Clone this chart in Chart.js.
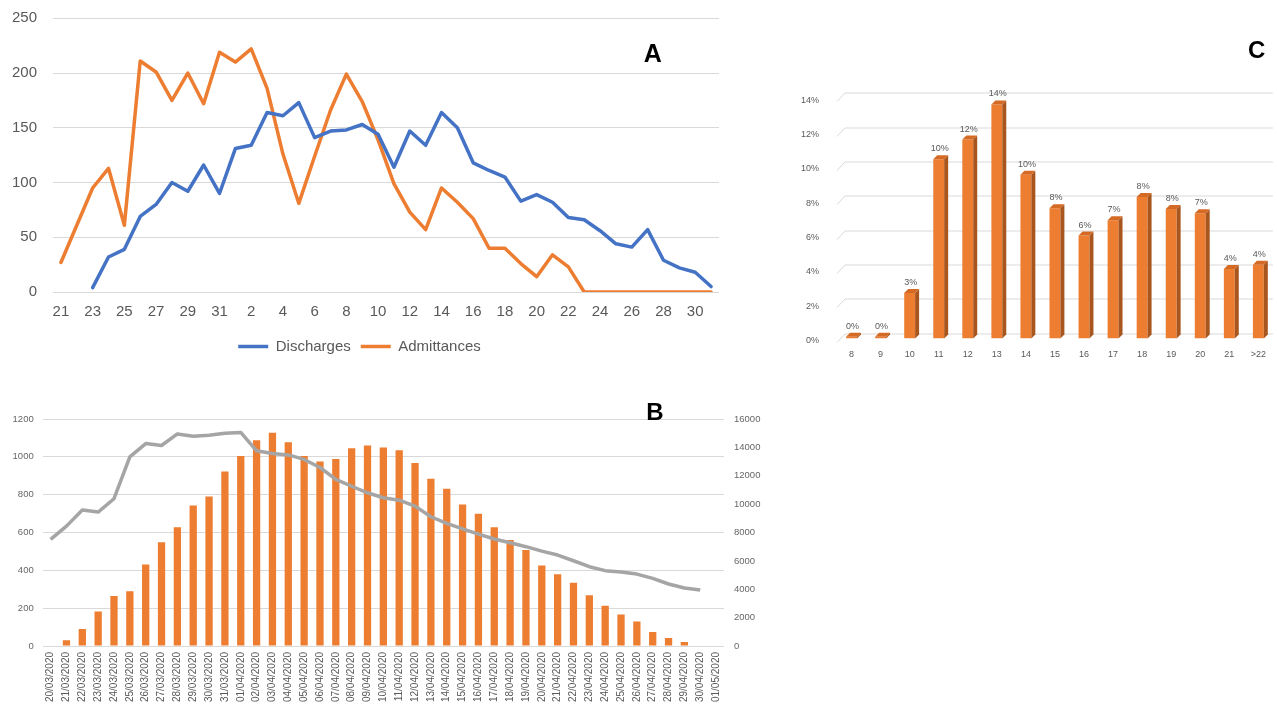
<!DOCTYPE html>
<html><head><meta charset="utf-8">
<script src="https://cdn.jsdelivr.net/npm/chart.js@4/dist/chart.umd.min.js"></script>
<style>
html,body{margin:0;padding:0;background:#fff;width:1277px;height:704px;overflow:hidden;position:relative;}
.box{position:absolute;}
.box canvas{display:block;}
.tag{position:absolute;font-family:"Liberation Sans",Arial,sans-serif;font-weight:bold;color:#000;line-height:1;transform:translate(-50%,-50%);z-index:5;}
</style></head><body>
<div class="box" style="left:0;top:0;"><canvas id="cA" width="730" height="370" style="width:730px;height:370px"></canvas></div>
<div class="box" style="left:0;top:400px;"><canvas id="cB" width="790" height="304" style="width:790px;height:304px"></canvas></div>
<div class="box" style="left:780px;top:60px;"><canvas id="cC" width="497" height="310" style="width:497px;height:310px"></canvas></div>
<div class="tag" style="left:652.7px;top:53.3px;font-size:25px">A</div>
<div class="tag" style="left:655px;top:411.7px;font-size:24px">B</div>
<div class="tag" style="left:1256.7px;top:50px;font-size:24px">C</div>
<script>
// ---------- Chart A data ----------
const dayLabels = ['21','22','23','24','25','26','27','28','29','30','31','1','2','3','4','5','6','7','8','9','10','11','12','13','14','15','16','17','18','19','20','21','22','23','24','25','26','27','28','29','30','1'];
const discharges = [null,null,4,32,39,69,80,100,92,116,90,131,134,164,161,173,141,147,148,153,144,114,147,134,164,150,118,111,105,83,89,82,68,66,56,44,41,57,29,22,18,5];
const admittances = [27,61,95,113,61,211,201,175,200,172,219,210,222,186,126,81,124,166,199,174,139,99,73,57,95,82,67,40,40,26,14,34,23,0,0,0,0,0,0,0,0,0];
const yTicksA = [0,250,50];

// ---------- Chart B data ----------
const datesB = ['20/03/2020','21/03/2020','22/03/2020','23/03/2020','24/03/2020','25/03/2020','26/03/2020','27/03/2020','28/03/2020','29/03/2020','30/03/2020','31/03/2020',
'01/04/2020','02/04/2020','03/04/2020','04/04/2020','05/04/2020','06/04/2020','07/04/2020','08/04/2020','09/04/2020','10/04/2020',
'11/04/2020','12/04/2020','13/04/2020','14/04/2020','15/04/2020','16/04/2020','17/04/2020','18/04/2020','19/04/2020','20/04/2020',
'21/04/2020','22/04/2020','23/04/2020','24/04/2020','25/04/2020','26/04/2020','27/04/2020','28/04/2020','29/04/2020','30/04/2020','01/05/2020'];
const barsB = [null,30,90,183,264,289,431,549,628,743,790,922,
1004,1088,1127,1077,1004,975,989,1046,1060,1049,
1035,968,884,831,748,699,628,560,507,426,
379,335,268,213,167,129,74,42,21,null,null];
const lineB = [7510,8450,9580,9440,10380,13330,14270,14130,14950,14790,14860,15000,
15050,13760,13570,13470,13150,12580,11740,11260,10800,10450,
10280,9860,9110,8640,8260,7890,7540,7280,7000,6690,
6410,6010,5590,5310,5210,5070,4770,4370,4090,3940,null];
const leftTicksB = [0,1200,200];
const rightTicksB = [0,16000,2000];

// ---------- Chart C data ----------
const catsC = ['8','9','10','11','12','13','14','15','16','17','18','19','20','21','>22'];
const pctC = [0.1,0.1,2.65,10.45,11.6,13.65,9.55,7.6,6.0,6.9,8.25,7.55,7.3,4.05,4.3];
const yTicksC = [0,14,2];

const FONT = '"Liberation Sans", Arial, sans-serif';
Chart.defaults.font.family = FONT;
Chart.defaults.animation = false;

// ---------- Chart A ----------
new Chart(document.getElementById('cA'), {
  type: 'line',
  data: { labels: dayLabels, datasets: [
    { label: 'Discharges', data: discharges, borderColor: '#4472C4', backgroundColor: '#4472C4', borderWidth: 3.5, pointRadius: 0, tension: 0, borderJoinStyle: 'round', borderCapStyle: 'round' },
    { label: 'Admittances', data: admittances, borderColor: '#ED7D31', backgroundColor: '#ED7D31', borderWidth: 3.5, pointRadius: 0, tension: 0, borderJoinStyle: 'round', borderCapStyle: 'round' }
  ]},
  options: {
    responsive: false, devicePixelRatio: 1,
    layout: { padding: { top: 18.3, right: 11, bottom: 6, left: 0 } },
    plugins: {
      legend: { position: 'bottom', labels: { usePointStyle: true, pointStyle: 'line', pointStyleWidth: 30, color: '#595959', font: { size: 15 }, padding: 10 } },
      tooltip: { enabled: false }
    },
    scales: {
      x: { offset: true, grid: { display: false, drawTicks: false }, border: { display: false },
           ticks: { autoSkip: false, maxRotation: 0, minRotation: 0, padding: 11, color: '#595959', font: { size: 15 },
                    callback: (v, i) => (i % 2 === 0 ? dayLabels[i] : '') },
           afterFit: s => { s.height = 37; } },
      y: { min: yTicksA[0], max: yTicksA[1], ticks: { stepSize: yTicksA[2], padding: 16, color: '#595959', font: { size: 15 } },
           grid: { color: '#D9D9D9', drawTicks: false, lineWidth: 1 }, border: { display: false },
           afterFit: s => { s.width = 53; s.paddingTop = 9; s.paddingBottom = 9; } }
    }
  }
});

// ---------- Chart B ----------
new Chart(document.getElementById('cB'), {
  type: 'bar',
  data: { labels: datesB, datasets: [
    { type: 'line', label: 'Total', data: lineB, yAxisID: 'y1', borderColor: '#A5A5A5', backgroundColor: '#A5A5A5', borderWidth: 3.5, pointRadius: 0, tension: 0, order: 0, borderJoinStyle: 'round' },
    { type: 'bar', label: 'Daily', data: barsB, yAxisID: 'y', backgroundColor: '#ED7D31', categoryPercentage: 1, barPercentage: 0.46, order: 1 }
  ]},
  options: {
    responsive: false, devicePixelRatio: 1,
    layout: { padding: { top: 19, right: 0, bottom: 0, left: 0 } },
    plugins: { legend: { display: false }, tooltip: { enabled: false } },
    scales: {
      x: { grid: { display: false, drawTicks: false }, border: { display: false },
           ticks: { autoSkip: false, maxRotation: 90, minRotation: 90, padding: 6, color: '#595959', font: { size: 10 } },
           afterFit: s => { s.height = 58; } },
      y: { position: 'left', min: leftTicksB[0], max: leftTicksB[1],
           ticks: { stepSize: leftTicksB[2], padding: 9, color: '#666666', font: { size: 9.5 }, callback: v => String(v) },
           grid: { color: '#D9D9D9', drawTicks: false }, border: { display: false },
           afterFit: s => { s.width = 42.7; s.paddingTop = 6; s.paddingBottom = 6; } },
      y1: { position: 'right', min: rightTicksB[0], max: rightTicksB[1],
           ticks: { stepSize: rightTicksB[2], padding: 10, color: '#666666', font: { size: 9.5 }, callback: v => String(v) },
           grid: { drawOnChartArea: false, drawTicks: false }, border: { display: false },
           afterFit: s => { s.width = 66; s.paddingTop = 6; s.paddingBottom = 6; } }
    }
  }
});

// ---------- Chart C ----------
const grid3d = { id: 'grid3d', beforeDatasetsDraw(chart) {
  const { ctx, chartArea: a, scales: { y } } = chart;
  ctx.save(); ctx.strokeStyle = '#D9D9D9'; ctx.lineWidth = 1;
  y.ticks.forEach(t => {
    const py = Math.round(y.getPixelForValue(t.value)) + 0.5;
    ctx.beginPath(); ctx.moveTo(a.left, py + 3); ctx.lineTo(a.left + 8, py - 5.5); ctx.lineTo(a.right, py - 5.5); ctx.stroke();
  });
  ctx.restore();
}};
const bars3d = { id: 'bars3d', afterDatasetsDraw(chart) {
  const ctx = chart.ctx; const meta = chart.getDatasetMeta(0); const dx = 4, dy = -4;
  meta.data.forEach((bar, i) => {
    const { x, y, base, width } = bar.getProps(['x', 'y', 'base', 'width'], true);
    const l = x - width / 2, r = x + width / 2;
    ctx.save();
    ctx.fillStyle = '#A9561E';
    ctx.beginPath(); ctx.moveTo(r, y); ctx.lineTo(r + dx, y + dy); ctx.lineTo(r + dx, base + dy); ctx.lineTo(r, base); ctx.closePath(); ctx.fill();
    ctx.fillStyle = '#D46A24';
    ctx.beginPath(); ctx.moveTo(l, y); ctx.lineTo(l + dx, y + dy); ctx.lineTo(r + dx, y + dy); ctx.lineTo(r, y); ctx.closePath(); ctx.fill();
    ctx.fillStyle = '#595959'; ctx.font = '9px ' + FONT; ctx.textAlign = 'center'; ctx.textBaseline = 'middle';
    ctx.fillText(Math.round(pctC[i]) + '%', x + 1, y - 10.5);
    ctx.restore();
  });
}};
new Chart(document.getElementById('cC'), {
  type: 'bar',
  data: { labels: catsC, datasets: [ { label: 'Share', data: pctC, backgroundColor: '#ED7D31', categoryPercentage: 1, barPercentage: 0.375 } ] },
  options: {
    responsive: false, devicePixelRatio: 1,
    layout: { padding: { top: 38.4, right: 0, bottom: 0, left: 0 } },
    plugins: { legend: { display: false }, tooltip: { enabled: false } },
    scales: {
      x: { grid: { display: false, drawTicks: false }, border: { display: false },
           ticks: { padding: 11, color: '#595959', font: { size: 9 } },
           afterFit: s => { s.height = 31.5; } },
      y: { min: yTicksC[0], max: yTicksC[1],
           ticks: { stepSize: yTicksC[2], padding: 10, labelOffset: 2, color: '#595959', font: { size: 9 }, callback: v => v + '%' },
           grid: { display: false }, border: { display: false },
           afterFit: s => { s.width = 57; } }
    }
  },
  plugins: [grid3d, bars3d]
});
</script>
</body></html>
